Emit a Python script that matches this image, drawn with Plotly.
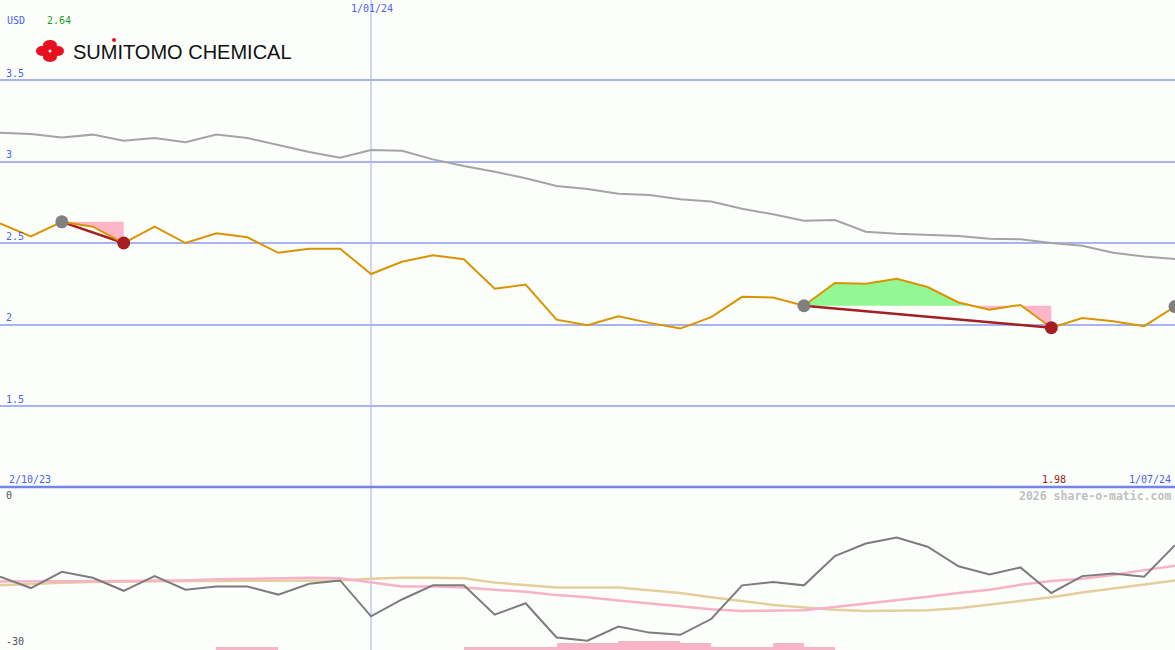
import plotly.graph_objects as go

W, H = 1175, 650

# ---------------- data ----------------
dates = ["2/10/23", "9/10/23", "16/10/23", "23/10/23", "30/10/23", "6/11/23", "13/11/23",
         "20/11/23", "27/11/23", "4/12/23", "11/12/23", "18/12/23", "1/01/24", "8/01/24",
         "15/01/24", "22/01/24", "29/01/24", "5/02/24", "12/02/24", "19/02/24", "26/02/24",
         "4/03/24", "11/03/24", "18/03/24", "25/03/24", "1/04/24", "8/04/24", "15/04/24",
         "22/04/24", "29/04/24", "6/05/24", "13/05/24", "20/05/24", "27/05/24", "3/06/24",
         "10/06/24", "17/06/24", "24/06/24", "1/07/24"]

price = [2.62, 2.54, 2.63, 2.60, 2.50, 2.60, 2.50, 2.56, 2.535, 2.44, 2.465, 2.465, 2.31,
         2.385, 2.425, 2.40, 2.22, 2.245, 2.03, 1.995, 2.05, 2.01, 1.975, 2.045, 2.17, 2.165,
         2.115, 2.255, 2.25, 2.28, 2.23, 2.135, 2.09, 2.12, 1.98, 2.04, 2.02, 1.99, 2.11]

avg_line = [3.177, 3.169, 3.148, 3.165, 3.128, 3.144, 3.118, 3.165, 3.144, 3.10, 3.058, 3.023,
            3.07, 3.066, 3.013, 2.972, 2.937, 2.897, 2.85, 2.831, 2.802, 2.794, 2.768, 2.754,
            2.71, 2.676, 2.637, 2.641, 2.569, 2.557, 2.549, 2.543, 2.526, 2.523, 2.50, 2.483,
            2.44, 2.418, 2.402]

osc = [-16.5, -18.6, -15.6, -16.7, -19.1, -16.4, -18.9, -18.3, -18.3, -19.8, -17.8, -17.2,
       -23.8, -20.7, -18.1, -18.1, -23.5, -21.4, -27.7, -28.3, -25.7, -26.8, -27.2, -24.3,
       -18.1, -17.5, -18.1, -12.7, -10.4, -9.3, -11.0, -14.6, -16.1, -14.8, -19.5, -16.4,
       -15.9, -16.5, -10.7]

osc_fast = [-17.4, -17.4, -17.4, -17.3, -17.3, -17.2, -17.2, -17.0, -16.9, -16.7, -16.7, -16.8,
            -17.6, -18.3, -18.3, -18.5, -18.9, -19.3, -19.9, -20.3, -20.9, -21.4, -21.9, -22.5,
            -22.8, -22.8, -22.7, -22.1, -21.5, -20.9, -20.2, -19.5, -18.9, -18.0, -17.3, -16.9,
            -16.2, -15.3, -14.5]

osc_slow = [-18.1, -17.8, -17.6, -17.5, -17.4, -17.4, -17.3, -17.3, -17.3, -17.3, -17.2, -17.2,
            -16.9, -16.7, -16.7, -16.8, -17.6, -18.1, -18.5, -18.5, -18.5, -19.0, -19.5, -20.3,
            -21.0, -21.7, -22.2, -22.6, -22.8, -22.8, -22.7, -22.3, -21.6, -21.0, -20.3, -19.4,
            -18.7, -18.0, -17.2]

# bars below the oscillator, one per week interval (height above the -30 floor)
bars = [0, 0, 0, 0, 0, 0, 0, 0.55, 0.55, 0, 0, 0, 0, 0, 0, 0.55, 0.55, 0.55, 1.2, 1.2,
        1.7, 1.7, 1.2, 0.55, 0.55, 1.2, 0.55, 0, 0, 0, 0, 0, 0, 0, 0, 0, 0, 0]

highs_idx = [2, 26, 38]   # grey markers
lows_idx = [4, 34]        # red markers
segments = [(2, 4), (26, 34)]

y_ticks = [3.5, 3, 2.5, 2, 1.5]
osc_labels = ["0", "-30"]
currency = "USD"
start_label = "2.64"
low_label = "1.98"
mid_date = "1/01/24"

# ---------------- figure ----------------
BG = "#FCFEFC"
GRID = "#A8B4F0"
BLUE_TXT = "#4B5EF0"
MONO = "DejaVu Sans Mono, Liberation Mono, monospace"

x = list(range(len(dates)))
fig = go.Figure()


def with_crossings(xs, ys, level):
    ox, oy = [xs[0]], [ys[0]]
    for i in range(1, len(xs)):
        y0, y1 = ys[i - 1] - level, ys[i] - level
        if y0 * y1 < 0:
            t = y0 / (y0 - y1)
            ox.append(xs[i - 1] + t * (xs[i] - xs[i - 1]))
            oy.append(level)
        ox.append(xs[i])
        oy.append(ys[i])
    return ox, oy


for a, b in segments:
    L = price[a]
    sx, sy = with_crossings(x[a:b + 1], price[a:b + 1], L)
    up = [max(v, L) for v in sy]
    dn = [min(v, L) for v in sy]
    fig.add_trace(go.Scatter(x=sx, y=[L] * len(sx), mode="lines", line=dict(width=0),
                             hoverinfo="skip", showlegend=False, yaxis="y"))
    fig.add_trace(go.Scatter(x=sx, y=up, mode="lines", line=dict(width=0), fill="tonexty",
                             fillcolor="#93F893", hoverinfo="skip", showlegend=False, yaxis="y"))
    fig.add_trace(go.Scatter(x=sx, y=[L] * len(sx), mode="lines", line=dict(width=0),
                             hoverinfo="skip", showlegend=False, yaxis="y"))
    fig.add_trace(go.Scatter(x=sx, y=dn, mode="lines", line=dict(width=0), fill="tonexty",
                             fillcolor="#FCB6C8", hoverinfo="skip", showlegend=False, yaxis="y"))

# upper grey average
fig.add_trace(go.Scatter(x=x, y=avg_line, mode="lines", line=dict(color="#A4A4A4", width=2),
                         showlegend=False, yaxis="y"))

# trend lines between high and low markers
for a, b in segments:
    fig.add_trace(go.Scatter(x=[a, b], y=[price[a], price[b]], mode="lines",
                             line=dict(color="#A41E22", width=2.5), showlegend=False, yaxis="y"))

# price line
fig.add_trace(go.Scatter(x=x, y=price, mode="lines", line=dict(color="#D99400", width=2),
                         showlegend=False, yaxis="y"))

fig.add_trace(go.Scatter(x=highs_idx, y=[price[i] for i in highs_idx], mode="markers",
                         marker=dict(color="#808080", size=13), showlegend=False, yaxis="y"))
fig.add_trace(go.Scatter(x=lows_idx, y=[price[i] for i in lows_idx], mode="markers",
                         marker=dict(color="#A41E22", size=13), showlegend=False, yaxis="y"))

# lower panel
fig.add_trace(go.Bar(x=[i + 0.5 for i in range(len(bars))], y=bars, base=-30, width=1.0,
                     marker=dict(color="#FAB4C8", line=dict(width=0)), showlegend=False,
                     yaxis="y2"))
fig.add_trace(go.Scatter(x=x, y=osc_slow, mode="lines", line=dict(color="#E4CE9C", width=2.5),
                         showlegend=False, yaxis="y2"))
fig.add_trace(go.Scatter(x=x, y=osc_fast, mode="lines", line=dict(color="#F8B2C8", width=2.5),
                         showlegend=False, yaxis="y2"))
fig.add_trace(go.Scatter(x=x, y=osc, mode="lines", line=dict(color="#7C7C7C", width=2),
                         showlegend=False, yaxis="y2"))

split = (H - 487) / H

fig.update_layout(
    width=W, height=H,
    margin=dict(l=0, r=0, t=0, b=0),
    paper_bgcolor=BG, plot_bgcolor=BG,
    showlegend=False,
    bargap=0,
    xaxis=dict(range=[0, len(dates) - 1], showgrid=False, zeroline=False, showticklabels=False,
               ticks="", fixedrange=True),
    yaxis=dict(domain=[split, 1], range=[1.003, 3.991], tickvals=y_ticks, showticklabels=False,
               gridcolor=GRID, gridwidth=2, zeroline=False, ticks=""),
    yaxis2=dict(domain=[0, split], range=[-30, 0], showgrid=False, zeroline=False,
                showticklabels=False, ticks=""),
)

# vertical date line
fig.add_shape(type="line", xref="x", yref="paper", x0=dates.index(mid_date), x1=dates.index(mid_date),
              y0=0, y1=1, line=dict(color="#A4ACF8", width=1), layer="below")
# separator
fig.add_shape(type="line", xref="paper", yref="paper", x0=0, x1=1, y0=split, y1=split,
              line=dict(color="#7484EC", width=2.5))


def ann(px, py, text, color, size=10, xanchor="left", bold=False):
    fig.add_annotation(xref="paper", yref="paper", x=px / W, y=1 - py / H, text=text,
                       showarrow=False, xanchor=xanchor, yanchor="middle",
                       font=dict(family=MONO, size=size, color=color,
                                 weight="bold" if bold else "normal"))


ann(5, 20, currency, BLUE_TXT)
ann(45, 20, start_label, "#1E9E1E")
ann(372, 8, mid_date, BLUE_TXT, xanchor="center")
for v in y_ticks:
    ypx = 80 + (3.5 - v) * 163
    ann(4, ypx - 7, ("%g" % v), BLUE_TXT)
ann(7, 479, dates[0], BLUE_TXT)
ann(1054, 479, low_label, "#A01818", xanchor="center")
ann(1173, 479, dates[-1], BLUE_TXT, xanchor="right")
ann(4, 495, osc_labels[0], "#505050")
ann(4, 641, osc_labels[1], "#505050")
ann(1173, 496, "2026 share-o-matic.com", "#C0C0C0", size=11.5, xanchor="right", bold=True)

# logo
RED = "#E8101E"
for cx, cy, rx, ry in [(42, 51, 6, 5), (58, 51, 6, 5), (50, 45, 7, 5), (50, 57, 7, 5)]:
    fig.add_shape(type="circle", xref="paper", yref="paper",
                  x0=(cx - rx) / W, x1=(cx + rx) / W, y0=1 - (cy + ry) / H, y1=1 - (cy - ry) / H,
                  fillcolor=RED, line=dict(width=0))
fig.add_shape(type="rect", xref="paper", yref="paper", x0=43 / W, x1=57 / W,
              y0=1 - 56 / H, y1=1 - 46 / H, fillcolor=RED, line=dict(width=0))
fig.add_shape(type="circle", xref="paper", yref="paper", x0=48.5 / W, x1=51.5 / W,
              y0=1 - 52.5 / H, y1=1 - 49.5 / H, fillcolor="white", line=dict(width=0))
fig.add_annotation(xref="paper", yref="paper", x=71 / W, y=1 - 52 / H, text="SUMITOMO CHEMICAL",
                   showarrow=False, xanchor="left", yanchor="middle",
                   font=dict(family="Liberation Sans, Arial", size=20, color="#111111"))
fig.add_shape(type="circle", xref="paper", yref="paper", x0=112 / W, x1=116 / W,
              y0=1 - 42 / H, y1=1 - 38 / H, fillcolor=RED, line=dict(width=0))

fig.write_html("out.html", config={"displayModeBar": False},
               post_script="document.body.style.margin='0px';"
               "document.body.style.overflow='hidden';")
